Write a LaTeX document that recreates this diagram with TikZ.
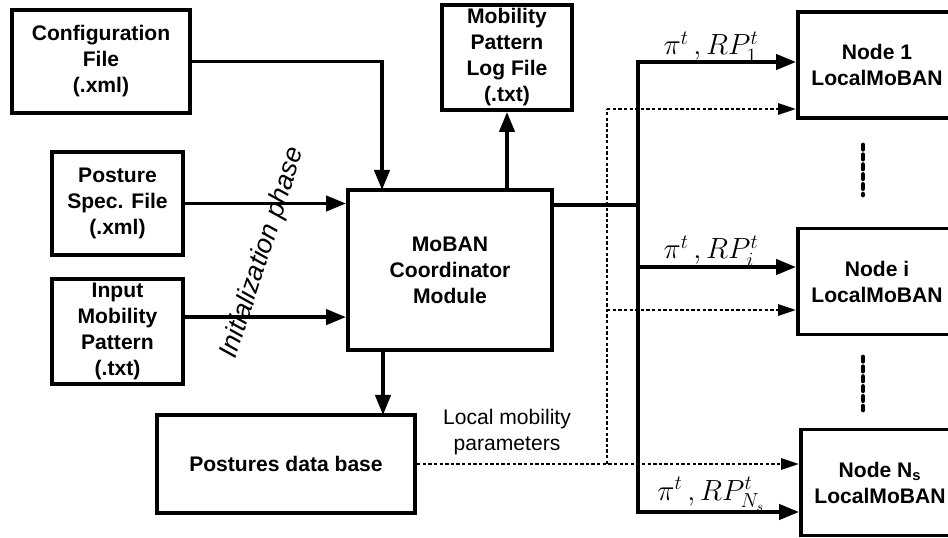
\documentclass[tikz,border=0pt]{standalone}
\usepackage{amsmath}
\usepackage[no-math]{fontspec}
\setmainfont{Liberation Sans}
\usetikzlibrary{arrows.meta}

\begin{document}
\begin{tikzpicture}[x=0.025cm,y=-0.025cm]
\tikzstyle{every node}+=[inner sep=0pt]
\tikzstyle{box}=[draw, line width=2.8pt, align=center, font=\bfseries\fontsize{15}{18.5}\selectfont]
\tikzstyle{wire}=[line width=2.6pt]
\tikzstyle{arr}=[wire, -{Triangle[length=0.5cm,width=0.38cm]}]
\tikzstyle{dotline}=[line width=1.8pt, dash pattern=on 2.4pt off 1.6pt]
\tikzstyle{dotarr}=[dotline, -{Triangle[length=0.45cm,width=0.28cm]}]
\tikzstyle{lbl}=[font=\fontsize{20}{24}\selectfont]
\useasboundingbox (0,0) rectangle (948,538);
\node[box, minimum width=4.45cm, minimum height=2.575cm] (cfg) at (101,61.5) {Configuration\\File\\(.xml)};
\node[box, minimum width=3.275cm, minimum height=2.575cm] (post) at (117.5,203.5) {Posture\\Spec. File\\(.xml)};
\node[box, minimum width=3.275cm, minimum height=2.625cm] (inp) at (117.5,331.5) {Input\\Mobility\\Pattern\\(.txt)};
\node[box, minimum width=5.1cm, minimum height=4cm] (moban) at (450,270) {MoBAN\\Coordinator\\Module};
\node[box, minimum width=3.25cm, minimum height=2.625cm] (log) at (507,57.5) {Mobility\\Pattern\\Log File\\(.txt)};
\node[box, minimum width=6.45cm, minimum height=2.45cm] (db) at (286,464) {Postures data base};
\node[box, minimum width=3.95cm, minimum height=2.65cm] (n1) at (877,65) {Node 1\\LocalMoBAN};
\node[box, minimum width=3.95cm, minimum height=2.65cm] (ni) at (877,281.5) {Node i\\LocalMoBAN};
\node[box, minimum width=3.95cm, minimum height=2.65cm] (nN) at (880,482.5) {Node N\textsubscript{s}\\LocalMoBAN};
\coordinate (cfgin) at (382,190);
\coordinate (dbin) at (383,415);
\coordinate (mout) at (552,205);
\coordinate (bus1) at (638,62);
\coordinate (busi) at (638,267);
\coordinate (busN) at (638,512);
\coordinate (dot1) at (607,109);
\coordinate (doti) at (607,310);
\draw[arr] (cfg.east) -| (cfgin);
\draw[arr] (post.east) -- (post.east -| moban.west);
\draw[arr] ([yshift=0.36cm]inp.east) -- ([yshift=0.36cm]inp.east -| moban.west);
\draw[arr] (moban.north -| log.south) -- (log.south);
\draw[arr] (moban.south -| dbin) -- (dbin);
\draw[wire] (mout) -- (mout -| bus1);
\draw[arr, {Triangle[length=0.5cm,width=0.38cm]}-{Triangle[length=0.5cm,width=0.38cm]}] (bus1 -| n1.west) -- (bus1) -- (busN) -- (busN -| nN.west);
\draw[arr] (busi) -- (busi -| ni.west);
\draw[dotline] (db.east -| dot1) -- (dot1);
\draw[dotarr] (db.east) -- (db.east -| nN.west);
\draw[dotarr] (dot1) -- (dot1 -| n1.west);
\draw[dotarr] (doti) -- (doti -| ni.west);
\draw[line width=3.5pt, line cap=round, dash pattern=on 3pt off 4pt] (863,145) -- (863,195);
\draw[line width=3.5pt, line cap=round, dash pattern=on 3pt off 4pt] (863,357) -- (863,410);
\node[lbl] (l1) at (711,47) {$\pi^{t}\,,RP^{t}_{1}$};
\node[lbl] (li) at (711,251) {$\pi^{t}\,,RP^{t}_{i}$};
\node[lbl] (lN) at (711,494) {$\pi^{t}\,,RP^{t}_{N_s}$};
\node[align=center, font=\fontsize{15}{18.5}\selectfont] (lmp) at (507,432) {Local mobility\\parameters};
\node[rotate=72, font=\itshape\fontsize{19}{22}\selectfont] (init) at (263,253) {Initialization phase};
\end{tikzpicture}
\end{document}
